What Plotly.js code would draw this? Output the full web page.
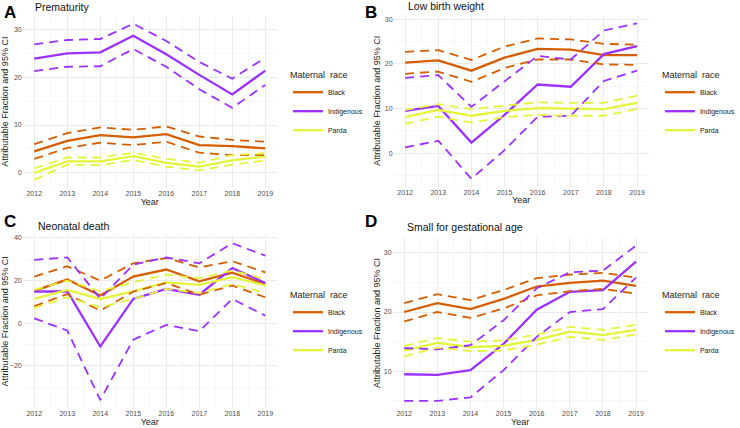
<!DOCTYPE html>
<html>
<head>
<meta charset="utf-8">
<script src="https://cdn.plot.ly/plotly-3.0.1.min.js"></script>
<style>
  body { margin: 0; background: #fff; }
  #chart { width: 740px; height: 428px; }
</style>
</head>
<body>
<div id="chart"></div>
<script>
var years = [2012, 2013, 2014, 2015, 2016, 2017, 2018, 2019];
var races = ["Black", "Indigenous", "Parda"];

// A - prematurity
var pretermBlack = [4.5, 6.7, 7.9, 7.4, 8.1, 5.8, 5.6, 5.1];
var pretermBlackLow = [2.9, 5.2, 6.3, 5.8, 6.5, 4.2, 3.7, 3.7];
var pretermBlackHigh = [6.0, 8.3, 9.5, 9.0, 9.7, 7.6, 6.9, 6.5];
var pretermIndig = [23.9, 25.0, 25.2, 28.7, 24.8, 20.5, 16.4, 21.4];
var pretermIndigLow = [21.3, 22.2, 22.3, 25.9, 22.2, 17.5, 13.6, 18.4];
var pretermIndigHigh = [26.9, 27.8, 28.0, 31.2, 27.6, 23.2, 19.7, 24.1];
var pretermParda = [0.0, 2.4, 2.4, 3.5, 2.1, 1.3, 2.6, 3.4];
var pretermPardaLow = [-1.5, 1.7, 1.6, 2.7, 1.3, 0.5, 1.7, 2.6];
var pretermPardaHigh = [0.9, 3.2, 3.2, 4.2, 2.9, 2.1, 3.7, 4.1];

// B - low birth weight
var lbwBlack = [20.3, 20.8, 18.5, 21.4, 23.4, 23.2, 22.0, 22.0];
var lbwBlackLow = [17.8, 18.3, 16.0, 19.1, 21.0, 21.0, 19.9, 19.8];
var lbwBlackHigh = [22.7, 23.1, 20.9, 23.9, 25.7, 25.5, 24.5, 24.3];
var lbwIndig = [9.5, 10.6, 2.4, 8.6, 15.4, 14.9, 22.2, 24.0];
var lbwIndigLow = [1.3, 2.8, -5.7, 0.7, 8.2, 8.4, 16.2, 18.5];
var lbwIndigHigh = [16.9, 17.5, 10.4, 16.0, 21.8, 21.0, 27.5, 29.1];
var lbwParda = [8.1, 9.7, 8.4, 9.5, 10.1, 10.0, 9.9, 11.3];
var lbwPardaLow = [6.6, 8.2, 6.9, 8.1, 8.6, 8.4, 8.4, 9.9];
var lbwPardaHigh = [9.7, 11.0, 9.9, 10.6, 11.4, 11.3, 11.3, 12.9];

// C - neonatal death
var neoBlack = [15.2, 20.5, 13.0, 21.9, 25.2, 19.7, 23.7, 18.4];
var neoBlackLow = [8.0, 13.7, 5.9, 14.8, 18.9, 13.4, 17.7, 12.2];
var neoBlackHigh = [21.9, 26.7, 20.0, 28.1, 30.6, 26.2, 29.1, 23.9];
var neoIndig = [14.8, 15.0, -10.9, 11.4, 16.1, 13.4, 25.9, 18.9];
var neoIndigLow = [2.3, -3.4, -36.0, -7.7, -0.8, -3.7, 11.4, 3.6];
var neoIndigHigh = [29.7, 30.9, 11.5, 27.5, 30.9, 28.1, 37.5, 31.7];
var neoParda = [11.4, 15.6, 11.4, 15.0, 19.2, 18.0, 21.6, 17.7];
var neoPardaLow = [7.2, 12.2, 7.5, 11.4, 16.1, 14.2, 18.4, 14.2];
var neoPardaHigh = [15.6, 20.0, 15.0, 19.2, 22.8, 21.1, 24.7, 20.8];

// D - small for gestational age
var sgaBlack = [20.0, 21.5, 20.5, 22.2, 24.3, 24.9, 25.3, 24.4];
var sgaBlackLow = [18.4, 20.0, 19.0, 20.6, 22.8, 23.5, 23.9, 23.1];
var sgaBlackHigh = [21.5, 23.0, 22.0, 23.7, 25.7, 26.3, 26.6, 25.8];
var sgaIndig = [9.5, 9.4, 10.2, 14.6, 20.4, 23.4, 23.7, 28.5];
var sgaIndigLow = [5.0, 5.0, 5.6, 10.2, 15.8, 20.0, 20.5, 25.8];
var sgaIndigHigh = [13.9, 13.7, 14.4, 18.6, 24.0, 26.7, 27.0, 31.2];
var sgaParda = [13.5, 14.8, 14.1, 14.3, 15.3, 16.7, 16.1, 17.0];
var sgaPardaLow = [12.5, 14.0, 13.4, 13.5, 14.5, 15.8, 15.3, 16.2];
var sgaPardaHigh = [14.3, 15.6, 15.0, 15.2, 16.2, 17.5, 17.0, 17.8];

var colors = ["#d55e00", "#9b30ff", "#e4f43a"];
var font = "Liberation Sans, Arial, sans-serif";
var yTitle = "Attributable Fraction and 95% CI";

var panels = [
    {letter: "A", title: "Prematurity",
     est: [pretermBlack, pretermIndig, pretermParda],
     low: [pretermBlackLow, pretermIndigLow, pretermPardaLow],
     high: [pretermBlackHigh, pretermIndigHigh, pretermPardaHigh],
     yrange: [-3.14, 32.84], dtick: 10,
     xdom: [23.5, 286.5], ydom: [15.9, 187.8], ytitleX: 5,
     legendPos: [298, 66], letterPos: [2, 12], titlePos: [34, 7]},
    {letter: "B", title: "Low birth weight",
     est: [lbwBlack, lbwIndig, lbwParda],
     low: [lbwBlackLow, lbwIndigLow, lbwPardaLow],
     high: [lbwBlackHigh, lbwIndigHigh, lbwPardaHigh],
     yrange: [-7.44, 30.84], dtick: 10,
     xdom: [407.3, 671.3], ydom: [15.55, 186.5], ytitleX: 390,
     legendPos: [683, 66], letterPos: [376, 12], titlePos: [420, 6]},
    {letter: "C", title: "Neonatal death",
     est: [neoBlack, neoIndig, neoParda],
     low: [neoBlackLow, neoIndigLow, neoPardaLow],
     high: [neoBlackHigh, neoIndigHigh, neoPardaHigh],
     yrange: [-39.6, 41.2], dtick: 20,
     xdom: [23.5, 286.5], ydom: [235.4, 407.7], ytitleX: 5,
     legendPos: [298, 286], letterPos: [2, 221], titlePos: [37, 226]},
    {letter: "D", title: "Small for gestational age",
     est: [sgaBlack, sgaIndig, sgaParda],
     low: [sgaBlackLow, sgaIndigLow, sgaPardaLow],
     high: [sgaBlackHigh, sgaIndigHigh, sgaPardaHigh],
     yrange: [3.74, 32.5], dtick: 10,
     xdom: [406.3, 670.3], ydom: [237.9, 408.4], ytitleX: 390,
     legendPos: [683, 286], letterPos: [376, 221], titlePos: [419, 227]}
];

var W = 740, H = 428;
var traces = [];
var layout = {
    width: W,
    height: H,
    margin: {l: 0, r: 0, t: 0, b: 0},
    paper_bgcolor: "#fff",
    plot_bgcolor: "#fff",
    font: {family: font, color: "#000"},
    annotations: []
};

panels.forEach(function (p, k) {
    var n = k === 0 ? "" : String(k + 1);
    var legendId = "legend" + n;
    // estimates
    races.forEach(function (race, r) {
        traces.push({
            x: years, y: p.est[r], type: "scatter", mode: "lines",
            xaxis: "x" + n, yaxis: "y" + n,
            name: race, legend: legendId, showlegend: true,
            line: {color: colors[r], width: 2.3},
            hoverinfo: "skip"
        });
    });
    // confidence bounds
    races.forEach(function (race, r) {
        [p.low[r], p.high[r]].forEach(function (vals) {
            traces.push({
                x: years, y: vals, type: "scatter", mode: "lines",
                xaxis: "x" + n, yaxis: "y" + n,
                name: race, legend: legendId, showlegend: false,
                line: {color: colors[r], width: 1.8, dash: "9px,6px"},
                hoverinfo: "skip"
            });
        });
    });

    layout["xaxis" + n] = {
        domain: [p.xdom[0] / W, p.xdom[1] / W],
        anchor: "y" + n,
        range: [2011.65, 2019.35],
        tickvals: years,
        ticks: "",
        showline: false,
        zeroline: false,
        gridcolor: "#ebebeb",
        gridwidth: 1,
        minor: {dtick: 0.5, tick0: 2011.5, showgrid: true, gridcolor: "#f4f4f4", gridwidth: 0.7},
        tickfont: {size: 7, color: "#4d4d4d", family: font},
        title: {text: "Year", font: {size: 9, color: "#222"}, standoff: 2}
    };
    layout["yaxis" + n] = {
        domain: [1 - p.ydom[1] / H, 1 - p.ydom[0] / H],
        anchor: "x" + n,
        range: p.yrange,
        dtick: p.dtick,
        ticks: "",
        showline: false,
        zeroline: false,
        gridcolor: "#ebebeb",
        gridwidth: 1,
        minor: {dtick: p.dtick / 2, showgrid: true, gridcolor: "#f4f4f4", gridwidth: 0.7},
        tickfont: {size: 7, color: "#4d4d4d", family: font}
    };
    layout[legendId] = {
        x: p.legendPos[0] / W, y: 1 - p.legendPos[1] / H,
        xanchor: "left", yanchor: "top",
        bgcolor: "rgba(0,0,0,0)",
        traceorder: "normal",
        title: {text: "Maternal  race", font: {size: 9, color: "#222", family: font}},
        font: {size: 7, color: "#222", family: font},
        itemwidth: 30
    };
    // y title placed by hand so both columns sit the same distance from their plots
    layout.annotations.push({
        text: yTitle, xref: "paper", yref: "paper", textangle: -90,
        x: p.ytitleX / W, y: 1 - (p.ydom[0] + p.ydom[1]) / 2 / H,
        xanchor: "center", yanchor: "middle", showarrow: false,
        font: {size: 9, color: "#222", family: font}
    });
    layout.annotations.push({
        text: "<b>" + p.letter + "</b>", xref: "paper", yref: "paper",
        x: p.letterPos[0] / W, y: 1 - p.letterPos[1] / H,
        xanchor: "left", yanchor: "middle", showarrow: false,
        font: {size: 17, color: "#000", family: font}
    });
    layout.annotations.push({
        text: p.title, xref: "paper", yref: "paper",
        x: p.titlePos[0] / W, y: 1 - p.titlePos[1] / H,
        xanchor: "left", yanchor: "middle", showarrow: false,
        font: {size: 10.5, color: "#111", family: font}
    });
});

Plotly.newPlot("chart", traces, layout, {displayModeBar: false, staticPlot: true});
</script>
</body>
</html>
